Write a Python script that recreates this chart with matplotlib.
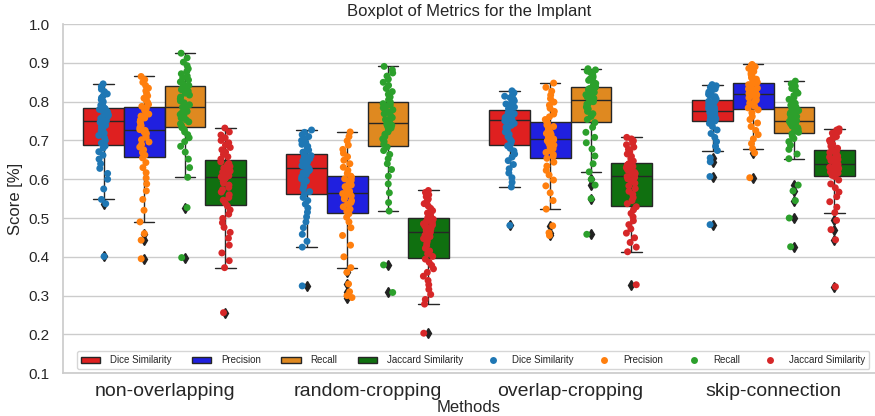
import numpy as np
import pandas as pd
import matplotlib
matplotlib.use("Agg")
import matplotlib.pyplot as plt
import seaborn as sns

methods = ["non-overlapping", "random-cropping", "overlap-cropping", "skip-connection"]
metrics = ["Dice Similarity", "Precision", "Recall", "Jaccard Similarity"]

# scores, one list per box
non_overlapping_dice = [.401, .537, .548, .575, .600, .615, .628, .640, .652, .662, .671, .680, .686, .693, .700, .707, .713,
                        .719, .725, .730, .735, .739, .743, .747, .749, .751, .754, .757, .760, .763, .766, .769, .772, .775,
                        .777, .780, .782, .784, .787, .791, .795, .800, .805, .810, .815, .820, .826, .832, .839, .846]
non_overlapping_prec = [.395, .443, .460, .490, .520, .548, .570, .588, .603, .617, .630, .643, .655, .662, .669, .676, .683,
                        .690, .696, .702, .708, .713, .718, .722, .726, .728, .733, .738, .743, .748, .753, .758, .763, .768,
                        .773, .778, .783, .788, .793, .798, .803, .809, .815, .821, .828, .835, .842, .850, .857, .865]
non_overlapping_rec = [.398, .527, .605, .630, .652, .670, .685, .697, .707, .715, .722, .728, .733, .738, .743, .748, .753,
                       .758, .763, .767, .771, .775, .779, .783, .786, .788, .792, .797, .802, .807, .812, .817, .822, .827,
                       .831, .835, .839, .842, .846, .851, .856, .861, .866, .872, .878, .885, .893, .902, .913, .925]
non_overlapping_jac = [.256, .372, .390, .410, .430, .448, .463, .476, .488, .499, .510, .521, .531, .539, .546, .553, .560,
                       .567, .573, .579, .585, .590, .595, .600, .604, .606, .609, .612, .615, .618, .621, .625, .629, .633,
                       .637, .641, .645, .652, .658, .664, .670, .676, .682, .688, .694, .700, .707, .714, .722, .732]

random_cropping_dice = [.325, .425, .440, .458, .475, .490, .503, .515, .526, .536, .545, .553, .561, .568, .575, .582, .589,
                        .595, .601, .607, .612, .617, .621, .624, .627, .629, .632, .635, .638, .641, .644, .647, .650, .653,
                        .656, .659, .661, .665, .670, .675, .680, .685, .690, .695, .700, .705, .710, .715, .721, .727]
random_cropping_prec = [.295, .300, .310, .330, .360, .372, .400, .430, .455, .475, .490, .502, .511, .517, .523, .529, .535,
                        .540, .545, .549, .553, .557, .560, .563, .564, .566, .569, .572, .575, .578, .581, .585, .589, .593,
                        .597, .601, .605, .608, .615, .623, .631, .640, .649, .658, .667, .677, .688, .699, .710, .722]
random_cropping_rec = [.308, .379, .518, .540, .565, .588, .608, .625, .640, .653, .664, .674, .683, .690, .697, .704, .710,
                       .716, .722, .727, .732, .736, .739, .742, .743, .745, .749, .754, .759, .764, .769, .774, .779, .784,
                       .788, .792, .795, .799, .805, .812, .819, .826, .834, .842, .850, .858, .866, .874, .882, .891]
random_cropping_jac = [.203, .278, .290, .303, .316, .328, .339, .350, .360, .369, .378, .386, .394, .401, .408, .415, .422,
                       .429, .435, .441, .447, .452, .456, .459, .462, .464, .467, .470, .473, .476, .479, .482, .485, .488,
                       .491, .494, .497, .501, .507, .513, .519, .525, .531, .537, .543, .549, .555, .560, .566, .571]

overlap_cropping_dice = [.481, .580, .592, .604, .616, .627, .638, .648, .657, .665, .673, .680, .686, .692, .698, .704, .710,
                         .716, .722, .728, .734, .739, .744, .748, .751, .753, .755, .757, .759, .761, .763, .765, .767, .769,
                         .771, .773, .776, .779, .782, .786, .790, .794, .798, .802, .806, .810, .814, .818, .823, .828]
overlap_cropping_prec = [.455, .462, .480, .523, .545, .565, .583, .598, .611, .623, .634, .644, .654, .659, .664, .669, .674,
                         .679, .684, .688, .692, .696, .699, .702, .704, .706, .709, .712, .715, .718, .721, .724, .728, .732,
                         .736, .740, .744, .748, .754, .761, .768, .775, .783, .791, .799, .808, .817, .827, .837, .848]
overlap_cropping_rec = [.458, .550, .585, .600, .619, .640, .660, .678, .694, .708, .721, .734, .746, .754, .762, .769, .775,
                        .781, .786, .790, .794, .797, .800, .802, .804, .806, .809, .812, .815, .818, .821, .824, .827, .830,
                        .832, .834, .836, .839, .843, .847, .851, .855, .859, .863, .867, .871, .875, .879, .882, .885]
overlap_cropping_jac = [.328, .413, .425, .437, .449, .461, .472, .483, .493, .503, .512, .521, .529, .537, .545, .553, .561,
                        .569, .576, .583, .590, .596, .601, .605, .607, .609, .612, .615, .618, .621, .624, .627, .630, .633,
                        .636, .638, .640, .642, .647, .653, .659, .665, .671, .677, .683, .689, .694, .699, .704, .708]

skip_connection_dice = [.483, .607, .645, .655, .674, .685, .697, .708, .718, .727, .736, .744, .750, .753, .756, .759, .762,
                        .764, .766, .768, .770, .772, .773, .774, .775, .777, .779, .781, .783, .785, .787, .789, .791, .794,
                        .797, .799, .801, .804, .807, .810, .813, .816, .819, .822, .825, .829, .833, .837, .841, .844]
skip_connection_prec = [.604, .668, .679, .692, .704, .715, .726, .736, .745, .754, .762, .771, .779, .784, .788, .792, .796,
                        .800, .804, .807, .810, .813, .816, .818, .819, .821, .823, .825, .827, .829, .831, .833, .835, .838,
                        .841, .844, .847, .850, .854, .858, .862, .866, .870, .874, .878, .882, .886, .890, .893, .896]
skip_connection_rec = [.426, .500, .545, .570, .585, .653, .665, .677, .688, .697, .705, .711, .717, .721, .725, .729, .733,
                       .737, .740, .743, .745, .747, .748, .749, .749, .751, .753, .756, .759, .762, .765, .768, .771, .774,
                       .777, .780, .783, .786, .791, .796, .801, .806, .811, .816, .822, .828, .834, .840, .846, .853]
skip_connection_jac = [.323, .444, .470, .494, .514, .528, .542, .555, .567, .578, .588, .598, .607, .610, .613, .616, .619,
                       .622, .625, .628, .631, .634, .636, .637, .638, .640, .642, .645, .648, .651, .654, .657, .660, .663,
                       .666, .669, .672, .675, .680, .685, .690, .695, .700, .705, .710, .715, .719, .723, .727, .730]

scores = {
    "non-overlapping": [non_overlapping_dice, non_overlapping_prec, non_overlapping_rec, non_overlapping_jac],
    "random-cropping": [random_cropping_dice, random_cropping_prec, random_cropping_rec, random_cropping_jac],
    "overlap-cropping": [overlap_cropping_dice, overlap_cropping_prec, overlap_cropping_rec, overlap_cropping_jac],
    "skip-connection": [skip_connection_dice, skip_connection_prec, skip_connection_rec, skip_connection_jac],
}

rows = []
for m in methods:
    for metric, vals in zip(metrics, scores[m]):
        for v in vals:
            rows.append((m, metric, v))
df = pd.DataFrame(rows, columns=["Method", "Metric", "Score"])

sns.set_theme(style="whitegrid")
plt.rcParams["font.family"] = ["Liberation Sans", "DejaVu Sans"]
np.random.seed(3)

fig, ax = plt.subplots(figsize=(8.75, 4.16), dpi=100)
fig.subplots_adjust(left=0.072, right=1.0, top=0.942, bottom=0.103)

sns.boxplot(data=df, x="Method", y="Score", hue="Metric", order=methods, hue_order=metrics,
            palette=["red", "blue", "darkorange", "green"], ax=ax,
            flierprops=dict(marker="d", markerfacecolor="#222222", markeredgecolor="#222222", markersize=5))
sns.stripplot(data=df, x="Method", y="Score", hue="Metric", order=methods, hue_order=metrics,
              palette=["#1f77b4", "#ff7f0e", "#2ca02c", "#d62728"], dodge=True, size=5, ax=ax)

ax.set_ylim(0.1, 1.0)
ticks = [0.1, 0.2, 0.3, 0.4, 0.5, 0.6, 0.7, 0.8, 0.9, 1.0]
ax.set_yticks(ticks)
ax.set_yticklabels(["%.1f" % t for t in ticks], fontsize=11)
ax.tick_params(axis="x", labelsize=14, pad=1)
ax.set_xlabel("Methods", fontsize=12, labelpad=0)
ax.set_ylabel("Score [%]", fontsize=12)
ax.set_title("Boxplot of Metrics for the Implant", fontsize=12)
ax.spines["top"].set_visible(False)
ax.spines["right"].set_visible(False)

handles, labels = ax.get_legend_handles_labels()
ax.legend(handles, labels, ncol=8, loc="lower center", bbox_to_anchor=(0.505, 0), fontsize=7,
          columnspacing=2.1, handletextpad=1.0, handlelength=2.0, borderaxespad=0.4)

fig.savefig("out.png", dpi=100)
